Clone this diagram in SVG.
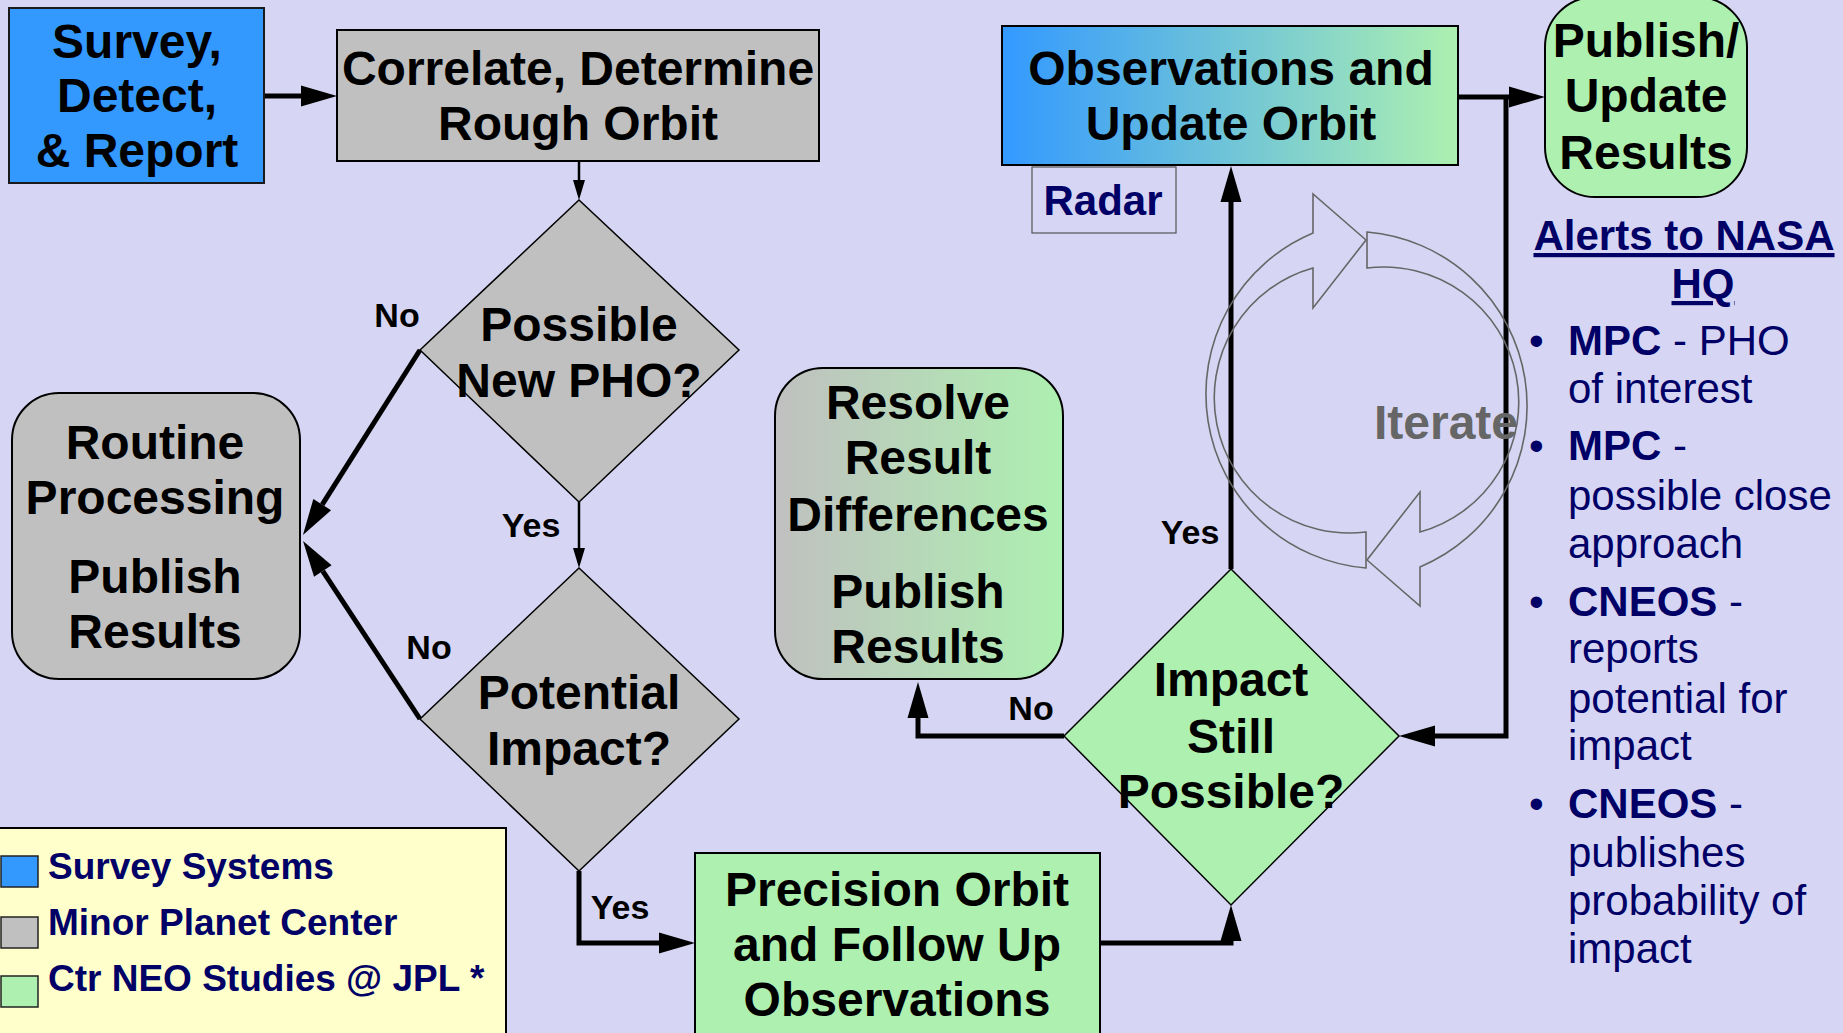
<svg xmlns="http://www.w3.org/2000/svg" width="1843" height="1033" viewBox="0 0 1843 1033">
<defs>
<linearGradient id="gObs" x1="0" y1="0" x2="1" y2="0"><stop offset="0" stop-color="#3399FF"/><stop offset="1" stop-color="#ADF0B0"/></linearGradient>
<linearGradient id="gRes" x1="0" y1="0" x2="1" y2="0"><stop offset="0" stop-color="#C0C0C0"/><stop offset="1" stop-color="#ADF0B0"/></linearGradient>
<marker id="ah" markerUnits="userSpaceOnUse" markerWidth="37" markerHeight="22" refX="0" refY="10.5" orient="auto" overflow="visible"><path d="M0,0 L36,10.5 L0,21 Z" fill="#000"/></marker>
<marker id="ahs" markerUnits="userSpaceOnUse" markerWidth="21" markerHeight="13" refX="0" refY="6" orient="auto" overflow="visible"><path d="M0,0 L20,6 L0,12 Z" fill="#000"/></marker>
<style>
.t{font-family:"Liberation Sans",Arial,sans-serif;font-weight:bold;font-size:48px;text-anchor:middle;fill:#000}
.lb{font-family:"Liberation Sans",Arial,sans-serif;font-weight:bold;font-size:34px;text-anchor:middle;fill:#000}
.nv{font-family:"Liberation Sans",Arial,sans-serif;font-size:42px;fill:#000066}
.b{font-weight:bold}
.lg{font-family:"Liberation Sans",Arial,sans-serif;font-weight:bold;font-size:37px;fill:#000066}
.box{stroke:#000;stroke-width:2}
.dia{stroke:#000;stroke-width:1.5}
.thick{fill:none;stroke:#000;stroke-width:5;stroke-linejoin:miter}
.thin{fill:none;stroke:#000;stroke-width:2.5}
.cyc{fill:none;stroke:#666;stroke-width:1.6}
</style>
</defs>
<rect x="0" y="0" width="1843" height="1033" fill="#D6D6F4"/>

<g id="connectors">
<path class="thick" d="M264,96 L301,96" marker-end="url(#ah)"/>
<path class="thin" d="M579,160 L579,180" marker-end="url(#ahs)"/>
<path class="thin" d="M579,502 L579,548" marker-end="url(#ahs)"/>
<path class="thick" d="M420,350 L322.2,504.6" marker-end="url(#ah)"/>
<path class="thick" d="M420,719 L322.8,571.1" marker-end="url(#ah)"/>
<path class="thick" d="M579,871 L579,943 L659,943" marker-end="url(#ah)"/>
<path class="thick" d="M1100,943 L1231,943 L1231,941" marker-end="url(#ah)"/>
<path class="thick" d="M1231,569 L1231,202" marker-end="url(#ah)"/>
<path class="thick" d="M1064,736 L918,736 L918,718" marker-end="url(#ah)"/>
<path class="thick" d="M1458,97 L1509,97" marker-end="url(#ah)"/>
<path class="thick" d="M1506,97 L1506,736 L1435,736" marker-end="url(#ah)"/>
<text class="lb" x="397" y="327">No</text>
<text class="lb" x="531" y="537">Yes</text>
<text class="lb" x="429" y="659">No</text>
<text class="lb" x="620" y="919">Yes</text>
<text class="lb" x="1190" y="544">Yes</text>
<text class="lb" x="1031" y="720">No</text>
</g>

<g id="iterate">
<path class="cyc" d="M1366,568 A174.6,174.6 0 0 1 1313,233 L1313,194 L1366,240 L1313,308 L1313,268 A135,135 0 0 0 1366,532 Z"/>
<path class="cyc" d="M1367,232 A174.6,174.6 0 0 1 1420,567 L1420,606 L1367,560 L1420,492 L1420,532 A135,135 0 0 0 1367,268 Z"/>
<text class="t" x="1446" y="439" style="fill:#666">Iterate</text>
</g>

<g id="survey">
<rect class="box" x="9" y="8" width="255" height="175" fill="#3399FF" style="stroke:#1a1a1a"/>
<text class="t" x="137" y="58">Survey,</text>
<text class="t" x="137" y="112">Detect,</text>
<text class="t" x="137" y="167">&amp; Report</text>
</g>

<g id="correlate">
<rect class="box" x="337" y="30" width="482" height="131" fill="#C0C0C0"/>
<text class="t" x="578" y="85">Correlate, Determine</text>
<text class="t" x="578" y="140">Rough Orbit</text>
</g>

<g id="possible-pho">
<polygon class="dia" points="579,200 739,350 579,502 420,350" fill="#C0C0C0"/>
<text class="t" x="579" y="341">Possible</text>
<text class="t" x="579" y="397">New PHO?</text>
</g>

<g id="potential-impact">
<polygon class="dia" points="579,568 739,719 579,871 420,719" fill="#C0C0C0"/>
<text class="t" x="579" y="709">Potential</text>
<text class="t" x="579" y="765">Impact?</text>
</g>

<g id="routine">
<rect class="box" x="12" y="393" width="288" height="286" rx="47" ry="47" fill="#C0C0C0"/>
<text class="t" x="155" y="459">Routine</text>
<text class="t" x="155" y="514">Processing</text>
<text class="t" x="155" y="593">Publish</text>
<text class="t" x="155" y="648">Results</text>
</g>

<g id="resolve">
<rect class="box" x="775" y="368" width="288" height="311" rx="48" ry="48" fill="url(#gRes)"/>
<text class="t" x="918" y="419">Resolve</text>
<text class="t" x="918" y="474">Result</text>
<text class="t" x="918" y="531">Differences</text>
<text class="t" x="918" y="608">Publish</text>
<text class="t" x="918" y="663">Results</text>
</g>

<g id="impact-still">
<polygon class="dia" points="1231,569 1399,736 1231,905 1064,736" fill="#ADF0B0"/>
<text class="t" x="1231" y="696">Impact</text>
<text class="t" x="1231" y="753">Still</text>
<text class="t" x="1231" y="808">Possible?</text>
</g>

<g id="precision">
<rect class="box" x="695" y="853" width="405" height="190" fill="#ADF0B0"/>
<text class="t" x="897" y="906">Precision Orbit</text>
<text class="t" x="897" y="961">and Follow Up</text>
<text class="t" x="897" y="1016">Observations</text>
</g>

<g id="observations">
<rect class="box" x="1002" y="26" width="456" height="139" fill="url(#gObs)"/>
<text class="t" x="1231" y="85">Observations and</text>
<text class="t" x="1231" y="140">Update Orbit</text>
</g>

<g id="radar">
<rect x="1032" y="167" width="144" height="66" fill="none" stroke="#555" stroke-width="1.2"/>
<text class="nv b" x="1103" y="215" text-anchor="middle">Radar</text>
</g>

<g id="publish">
<rect class="box" x="1545" y="-3" width="202" height="200" rx="50" ry="50" fill="#ADF0B0"/>
<text class="t" x="1646" y="57">Publish/</text>
<text class="t" x="1646" y="112">Update</text>
<text class="t" x="1646" y="169">Results</text>
</g>

<g id="alerts">
<text class="nv b" x="1684" y="250" text-anchor="middle" text-decoration="underline">Alerts to NASA</text>
<text class="nv b" x="1703" y="298" text-anchor="middle" text-decoration="underline">HQ</text>
<text class="nv" x="1529" y="355">•</text>
<text class="nv" x="1568" y="355"><tspan class="b">MPC</tspan> - PHO</text>
<text class="nv" x="1568" y="403">of interest</text>
<text class="nv" x="1529" y="460">•</text>
<text class="nv" x="1568" y="460"><tspan class="b">MPC</tspan> -</text>
<text class="nv" x="1568" y="510">possible close</text>
<text class="nv" x="1568" y="558">approach</text>
<text class="nv" x="1529" y="616">•</text>
<text class="nv" x="1568" y="616"><tspan class="b">CNEOS</tspan> -</text>
<text class="nv" x="1568" y="663">reports</text>
<text class="nv" x="1568" y="713">potential for</text>
<text class="nv" x="1568" y="760">impact</text>
<text class="nv" x="1529" y="818">•</text>
<text class="nv" x="1568" y="818"><tspan class="b">CNEOS</tspan> -</text>
<text class="nv" x="1568" y="867">publishes</text>
<text class="nv" x="1568" y="915">probability of</text>
<text class="nv" x="1568" y="963">impact</text>
</g>

<g id="legend">
<rect x="-2" y="828" width="508" height="215" fill="#FFFFCC" stroke="#000" stroke-width="2"/>
<rect x="1" y="856" width="37" height="31" fill="#3399FF" stroke="#222" stroke-width="1.5"/>
<rect x="1" y="917" width="37" height="31" fill="#C0C0C0" stroke="#222" stroke-width="1.5"/>
<rect x="1" y="976" width="37" height="31" fill="#ADF0B0" stroke="#222" stroke-width="1.5"/>
<text class="lg" x="48" y="879">Survey Systems</text>
<text class="lg" x="48" y="935">Minor Planet Center</text>
<text class="lg" x="48" y="991">Ctr NEO Studies @ JPL *</text>
</g>
</svg>
